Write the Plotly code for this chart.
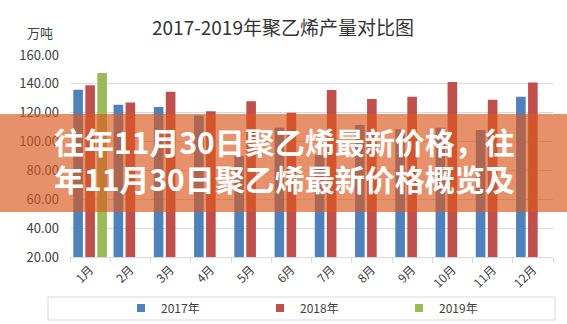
import plotly.graph_objects as go

months = ["1月", "2月", "3月", "4月", "5月", "6月", "7月", "8月", "9月", "10月", "11月", "12月"]
series_names = ["2017年", "2018年", "2019年"]
v2017 = [136, 125.5, 124, 118, 90, 109.5, 90.5, 111.5, 108.5, 109.5, 108, 131]
v2018 = [139, 127, 134.5, 121, 128, 120, 135.7, 129.5, 131, 141.3, 129, 141]
v2019 = [147.5, None, None, None, None, None, None, None, None, None, None, None]
colors = ["#4F81BD", "#C0504D", "#9BBB59"]
y_ticks = [20, 40, 60, 80, 100, 120, 140, 160]

title_text = "2017-2019年聚乙烯产量对比图"
unit_text = "万吨"
banner_lines = ["往年11月30日聚乙烯最新价格，往", "年11月30日聚乙烯最新价格概览及"]

FONT = "Noto Sans CJK SC"
W, H = 567, 324
L, R, T, B = 70, 14, 55, 67
pw, ph = W - L - R, H - T - B

def px_x(x):
    return (x - L) / pw

def px_y(y):
    return (H - B - y) / ph

fig = go.Figure()
for name, vals, c in zip(series_names, [v2017, v2018, v2019], colors):
    fig.add_trace(go.Bar(x=months, y=vals, name=name, marker_color=c,
                         marker_line_width=0, showlegend=False))
for name, c in zip(series_names, colors):
    fig.add_trace(go.Scatter(x=[None], y=[None], mode="markers", name=name,
                             marker=dict(symbol="square", size=8, color=c)))

fig.update_layout(
    width=W, height=H,
    margin=dict(l=L, r=R, t=T, b=B, autoexpand=False),
    paper_bgcolor="white", plot_bgcolor="white",
    barmode="group", bargap=0.105, bargroupgap=0.2,
    font=dict(family=FONT, color="#404040", size=13),
    showlegend=True,
    legend=dict(orientation="h", x=px_x(121), xanchor="left", y=px_y(308), yanchor="middle",
                entrywidth=94, entrywidthmode="pixels",
                font=dict(size=12, color="#404040"), bgcolor="rgba(0,0,0,0)",
                itemwidth=30, tracegroupgap=0),
)
fig.update_xaxes(type="category", tickangle=-45, showline=True, linecolor="#D9D9D9",
                 ticks="outside", tickson="boundaries", ticklen=5, tickcolor="#D9D9D9",
                 tickfont=dict(size=12, color="#404040", family=FONT), showgrid=False)
fig.update_yaxes(range=[20, 160], tickvals=y_ticks, tickformat=".2f", showgrid=True,
                 gridcolor="#D9D9D9", gridwidth=1, zeroline=False, showline=False,
                 ticks="", ticklabelstandoff=10,
                 tickfont=dict(size=13, color="#404040", family=FONT))

# legend box
fig.add_shape(type="rect", xref="paper", yref="paper",
              x0=px_x(48), x1=px_x(555), y0=px_y(320), y1=px_y(297),
              line=dict(color="#D9D9D9", width=1), fillcolor="rgba(0,0,0,0)", layer="below")

fig.add_annotation(text=title_text, xref="paper", yref="paper", x=px_x(283), y=px_y(26),
                   xanchor="center", yanchor="middle", showarrow=False,
                   font=dict(size=19, color="#333333", family=FONT))
fig.add_annotation(text=unit_text, xref="paper", yref="paper", x=px_x(40), y=px_y(33),
                   xanchor="center", yanchor="middle", showarrow=False,
                   font=dict(size=13, color="#404040", family=FONT))

# overlay banner
fig.add_shape(type="rect", xref="paper", yref="paper",
              x0=px_x(0), x1=px_x(W), y0=px_y(212), y1=px_y(114),
              line=dict(width=0), fillcolor="rgba(218,88,30,0.66)", layer="above")
for line_text, yc in zip(banner_lines, [141, 178]):
    fig.add_annotation(text="<b>" + line_text + "</b>", xref="paper", yref="paper",
                       x=px_x(284), y=px_y(yc), xanchor="center", yanchor="middle",
                       showarrow=False, font=dict(size=30, color="white", family=FONT))

fig.write_html("out.html")
